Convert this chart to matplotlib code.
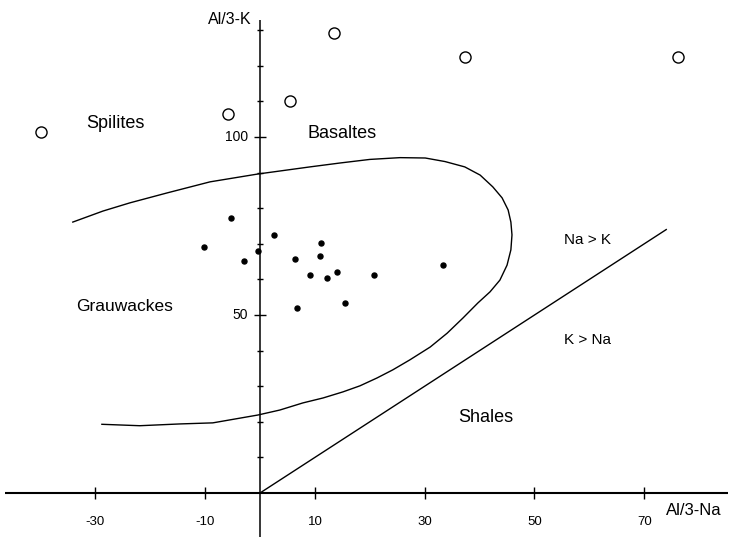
import matplotlib
matplotlib.use("Agg")
import matplotlib.pyplot as plt
import numpy as np

plt.rcParams['font.family'] = ['Liberation Sans', 'DejaVu Sans']

# Data
open_x = [-39.9, -5.8, 5.5, 13.5, 37.3, 76.1]
open_y = [101.4, 106.5, 110.1, 129.2, 122.5, 122.5]

dot_x = [-10.2, -5.3, -3.0, -0.4, 2.5, 6.3, 11.1, 10.9, 9.1, 12.2, 14.0, 6.8, 15.4, 20.7, 33.4]
dot_y = [69.0, 77.2, 65.3, 68.1, 72.4, 65.8, 70.3, 66.5, 61.3, 60.3, 62.0, 52.0, 53.3, 61.3, 64.0]

curve_x = [-34.1, -28.6, -23.7, -16.9, -9.1, -0.4, 9.1, 14.6, 20.0, 25.5, 30.1, 33.7, 37.3,
           40.1, 42.4, 44.1, 45.2, 45.7, 45.9, 45.7, 45.0, 43.7, 41.9, 39.7, 37.0, 34.1, 31.0,
           27.3, 24.2, 21.3, 18.2, 15.1, 11.5, 7.8, 3.6, -0.4, -8.6, -14.6, -21.9, -28.8]
curve_y = [76.1, 79.2, 81.5, 84.3, 87.4, 89.6, 91.6, 92.7, 93.7, 94.2, 94.1, 93.1, 91.6,
           89.3, 86.0, 82.9, 79.5, 76.1, 72.5, 68.3, 64.0, 59.8, 56.5, 53.4, 49.2, 44.9, 41.0,
           37.4, 34.6, 32.3, 30.1, 28.4, 26.7, 25.3, 23.3, 21.9, 19.7, 19.4, 18.9, 19.3]

line_x = [0, 74]
line_y = [0, 74]

xtick_vals = [-30, -10, 10, 30, 50, 70]
ytick_major = [50, 100]
ytick_minor = [10, 20, 30, 40, 60, 70, 80, 90, 110, 120, 130]

fig = plt.figure(figsize=(7.33, 5.39), dpi=100)
ax = fig.add_axes([0, 0, 1, 1])
ax.set_xlim(-47.36, 86.16)
ax.set_ylim(-12.92, 138.48)
ax.axis('off')

# axes lines
ax.plot([-46.4, 85.2], [0, 0], color='black', lw=1.5, solid_capstyle='butt')
ax.plot([0, 0], [-12.4, 132.9], color='black', lw=1.1, solid_capstyle='butt')

# ticks
ax.plot(xtick_vals, [0] * len(xtick_vals), ls='none', marker='|', ms=8, mew=1.0, color='black')
ax.plot([0] * len(ytick_major), ytick_major, ls='none', marker='_', ms=9, mew=1.0, color='black')
ax.plot([0] * len(ytick_minor), ytick_minor, ls='none', marker='_', ms=4, mew=1.0, color='black')

for v in xtick_vals:
    ax.text(v, -8.1, str(v), ha='center', va='center', fontsize=9.5, color='black')
for v in ytick_major:
    ax.text(-2.2, v, str(v), ha='right', va='center', fontsize=10, color='black')

ax.text(-1.5, 133.1, 'Al/3-K', ha='right', va='center', fontsize=11.5)
ax.text(74.0, -4.8, 'Al/3-Na', ha='left', va='center', fontsize=12)

# curve and line
ax.plot(curve_x, curve_y, color='black', lw=1.0, solid_joinstyle='round')
ax.plot(line_x, line_y, color='black', lw=1.0)

# points
ax.plot(open_x, open_y, ls='none', marker='o', ms=8, mfc='white', mec='black', mew=1.0)
ax.plot(dot_x, dot_y, ls='none', marker='o', ms=3.6, color='black')

# region labels
ax.text(-26.4, 103.9, 'Spilites', ha='center', va='center', fontsize=13)
ax.text(14.9, 101.1, 'Basaltes', ha='center', va='center', fontsize=13)
ax.text(-24.6, 52.5, 'Grauwackes', ha='center', va='center', fontsize=12.5)
ax.text(41.2, 21.1, 'Shales', ha='center', va='center', fontsize=13)
ax.text(59.6, 71.1, 'Na > K', ha='center', va='center', fontsize=11)
ax.text(59.6, 43.0, 'K > Na', ha='center', va='center', fontsize=11)

fig.savefig('out.png', dpi=100)
